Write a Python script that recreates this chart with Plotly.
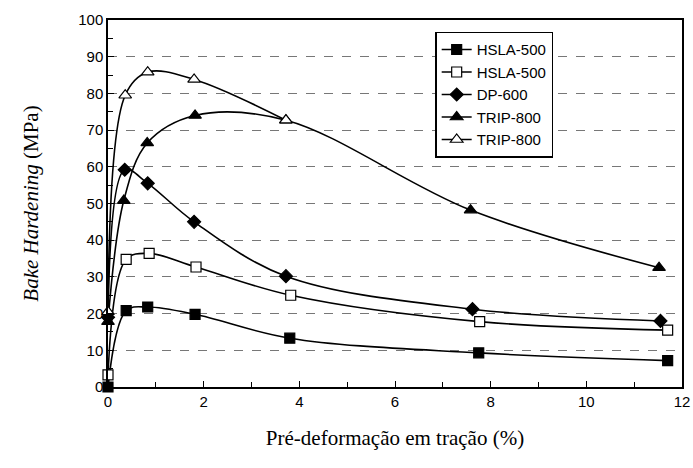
import plotly.graph_objects as go

# Data
hsla_f_x = [0, 0.38, 0.83, 1.82, 3.8, 7.75, 11.7]
hsla_f_y = [0, 20.8, 21.8, 19.8, 13.3, 9.3, 7.2]

hsla_o_x = [0, 0.38, 0.86, 1.84, 3.82, 7.77, 11.7]
hsla_o_y = [3.3, 34.8, 36.4, 32.7, 25.0, 17.8, 15.5]

dp_x = [0, 0.35, 0.83, 1.8, 3.72, 7.62, 11.55]
dp_y = [19, 59.2, 55.5, 45.0, 30.2, 21.2, 18.0]

trip_f_x = [0, 0.33, 0.82, 1.82, 3.72, 7.58, 11.52]
trip_f_y = [17.8, 50.8, 66.5, 74.0, 72.7, 48.2, 32.5]

trip_o_x = [0, 0.36, 0.83, 1.8, 3.72]
trip_o_y = [20.5, 79.5, 85.8, 83.8, 72.7]

series = [
    ("HSLA-500", hsla_f_x, hsla_f_y, "square", "black"),
    ("HSLA-500", hsla_o_x, hsla_o_y, "square-open", "white"),
    ("DP-600", dp_x, dp_y, "diamond", "black"),
    ("TRIP-800", trip_f_x, trip_f_y, "triangle-up", "black"),
    ("TRIP-800", trip_o_x, trip_o_y, "triangle-up-open", "white"),
]

fig = go.Figure()
for name, xs, ys, sym, fill in series:
    base = sym.replace("-open", "")
    fig.add_trace(go.Scatter(
        x=xs, y=ys, name=name, mode="lines+markers",
        line=dict(color="black", width=1.6, shape="spline", smoothing=1.0),
        marker=dict(symbol=base, size=11 if "triangle" in base else 10,
                    color=fill, line=dict(color="black", width=1.2)),
        cliponaxis=False,
    ))

fig.update_layout(
    width=693, height=468,
    margin=dict(l=108, r=11, t=20, b=81),
    paper_bgcolor="white", plot_bgcolor="white",
    font=dict(family="Liberation Sans, Arial", color="black", size=15),
    showlegend=True,
    legend=dict(x=0.57, y=0.968, xanchor="left", yanchor="top",
                bgcolor="white", bordercolor="black", borderwidth=1.5,
                font=dict(size=15, family="Liberation Sans, Arial"),
                tracegroupgap=0, itemsizing="trace", entrywidth=110),
    xaxis=dict(range=[0, 12], tickvals=[0, 2, 4, 6, 8, 10, 12],
               ticks="inside", ticklen=6, tickcolor="black",
               minor=dict(dtick=1, ticks="inside", ticklen=5, tickcolor="black"),
               showline=True, linecolor="black", linewidth=1.5, mirror=True,
               showgrid=False, zeroline=False, automargin=False,
               tickfont=dict(size=15),
               title=dict(text="Pré-deformação em tração (%)",
                          font=dict(family="Liberation Serif, Times New Roman", size=21),
                          standoff=22)),
    yaxis=dict(range=[0, 100], dtick=10,
               ticks="inside", ticklen=6, tickcolor="black",
               minor=dict(dtick=5, ticks="inside", ticklen=5, tickcolor="black", showgrid=False),
               showline=True, linecolor="black", linewidth=1.5, mirror=True,
               showgrid=True, gridcolor="#777777", griddash="dash", gridwidth=1,
               zeroline=False, automargin=False,
               tickfont=dict(size=15),
               title=dict(text="<i>Bake Hardening</i> (MPa)",
                          font=dict(family="Liberation Serif, Times New Roman", size=21),
                          standoff=34)),
)

fig.write_html("out.html",
               config={"displayModeBar": False},
               post_script="document.body.style.margin='0';document.body.style.overflow='hidden';")
